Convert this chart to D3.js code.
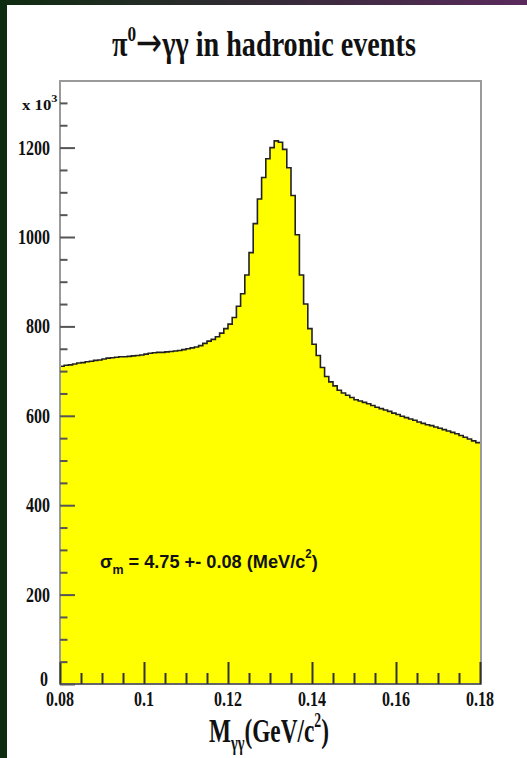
<!DOCTYPE html>
<html>
<head>
<meta charset="utf-8">
<script src="https://cdn.jsdelivr.net/npm/d3@7"></script>
<style>
  html, body { margin: 0; padding: 0; background: #fff; }
  svg { display: block; }
</style>
</head>
<body>
<script>
// Diphoton invariant mass spectrum, counts per 1 MeV bin (x 10^3)
const binStart = 0.08;
const binWidth = 0.001;
const counts = [
  711, 713, 714, 716, 718, 719, 721, 722, 724, 725,
  727, 729, 730, 731, 732, 732, 733, 734, 735, 736,
  738, 740, 741, 742, 742, 743, 744, 745, 746, 748,
  750, 752, 754, 757, 762, 767, 771, 777, 785, 795,
  805, 820, 845, 873, 915, 965, 1030, 1085, 1133, 1175,
  1200, 1215, 1212, 1196, 1155, 1093, 1005, 915, 850, 795,
  760, 735, 708, 688, 676, 667, 657, 651, 646, 641,
  636, 633, 630, 627, 623, 619, 616, 613, 610, 606,
  603, 599, 596, 593, 590, 586, 583, 580, 578, 575,
  572, 569, 566, 563, 560, 556, 552, 548, 544, 540
];
const xMajorTicks = [0.08, 0.10, 0.12, 0.14, 0.16, 0.18];
const xTickLabels = ["0.08", "0.1", "0.12", "0.14", "0.16", "0.18"];
const yMajorTicks = [0, 200, 400, 600, 800, 1000, 1200];
const yTickLabels = ["0", "200", "400", "600", "800", "1000", "1200"];

const W = 527, H = 758;
const plot = { left: 60, right: 480, top: 81, bottom: 684 };

const svg = d3.select("body").append("svg").attr("width", W).attr("height", H);

// slide background: white page with a dark left strip and gradient top band
const defs = svg.append("defs");
const grad = defs.append("linearGradient").attr("id", "topband").attr("x1", "0").attr("x2", "1");
grad.append("stop").attr("offset", "0").attr("stop-color", "#0e2c10");
grad.append("stop").attr("offset", "1").attr("stop-color", "#5a2a5c");
svg.append("rect").attr("width", W).attr("height", H).attr("fill", "#fff");
svg.append("rect").attr("x", 0).attr("y", 0).attr("width", W).attr("height", 5).attr("fill", "url(#topband)");
svg.append("rect").attr("x", 0).attr("y", 0).attr("width", 7).attr("height", H).attr("fill", "#0d2c10");

const x = d3.scaleLinear().domain([0.08, 0.18]).range([plot.left, plot.right]);
const y = d3.scaleLinear().domain([0, 1349]).range([plot.bottom, plot.top]);

// histogram as step points at bin edges
const steps = counts.map((c, i) => [binStart + i * binWidth, c]);
steps.push([binStart + counts.length * binWidth, counts[counts.length - 1]]);

const area = d3.area().curve(d3.curveStepAfter)
  .x(d => x(d[0])).y0(y(0)).y1(d => y(d[1]));
const line = d3.line().curve(d3.curveStepAfter)
  .x(d => x(d[0])).y(d => y(d[1]));

svg.append("path").datum(steps).attr("d", area).attr("fill", "#ffff00");
svg.append("path").datum(steps).attr("d", line)
  .attr("fill", "none").attr("stroke", "#222").attr("stroke-width", 1.6);

// frame
svg.append("rect")
  .attr("x", plot.left).attr("y", plot.top)
  .attr("width", plot.right + 1 - plot.left).attr("height", plot.bottom - plot.top)
  .attr("fill", "none").attr("stroke", "#9a9a9a").attr("stroke-width", 2);
svg.append("line").attr("x1", plot.left).attr("x2", plot.right + 1)
  .attr("y1", plot.bottom).attr("y2", plot.bottom)
  .attr("stroke", "#555").attr("stroke-width", 1.5);

// x ticks: majors every 0.02, minors every 0.005
const xAxis = d3.axisTop(x).tickValues(d3.range(0, 21).map(i => 0.08 + i * 0.005))
  .tickSize(0).tickFormat("");
const gx = svg.append("g").attr("transform", `translate(0,${plot.bottom})`).call(xAxis);
gx.select(".domain").remove();
gx.selectAll(".tick").append("line")
  .attr("y2", (d, i) => i % 4 === 0 ? -22 : -11)
  .attr("stroke", "#333").attr("stroke-width", 2);

// y ticks: majors every 200, minors every 50
const yAxis = d3.axisRight(y).tickValues(d3.range(0, 27).map(i => i * 50))
  .tickSize(0).tickFormat("");
const gy = svg.append("g").attr("transform", `translate(${plot.left},0)`).call(yAxis);
gy.select(".domain").remove();
gy.selectAll(".tick").append("line")
  .attr("x2", (d, i) => i % 4 === 0 ? 15 : 7.5)
  .attr("stroke", "#555").attr("stroke-width", 2);

const serif = "'Liberation Serif', 'Times New Roman', serif";
const sans = "'Liberation Sans', Arial, sans-serif";
const ink = "#111";

// tick labels
const labelScale = 0.8;
xMajorTicks.forEach((v, i) => {
  svg.append("text")
    .attr("transform", `translate(${x(v)},706) scale(${labelScale},1)`)
    .attr("text-anchor", "middle").attr("font-family", serif).attr("font-weight", "bold")
    .attr("font-size", 20).attr("fill", ink).text(xTickLabels[i]);
});
yMajorTicks.forEach((v, i) => {
  const yy = v === 0 ? y(v) + 2 : y(v) + 7;
  svg.append("text")
    .attr("transform", `translate(${v === 0 ? 48 : 50},${yy}) scale(${labelScale},1)`)
    .attr("text-anchor", "end").attr("font-family", serif).attr("font-weight", "bold")
    .attr("font-size", 20).attr("fill", ink).text(yTickLabels[i]);
});

// squeeze a text block horizontally into [x0, x0 + width]
function fitText(t, x0, baseline, width) {
  const bb = t.node().getBBox();
  const s = width / bb.width;
  t.attr("transform", `translate(${x0 - bb.x * s},${baseline}) scale(${s},1)`);
}

// axis multiplier
const mult = svg.append("text").attr("font-family", serif).attr("font-weight", "bold")
  .attr("font-size", 15).attr("fill", ink);
mult.append("tspan").text("x 10");
mult.append("tspan").attr("font-size", 11).attr("dy", -8).text("3");
fitText(mult, 22, 110, 36);

// title
const title = svg.append("text").attr("font-family", serif).attr("font-weight", "bold")
  .attr("font-size", 36).attr("fill", ink);
title.append("tspan").text("π");
title.append("tspan").attr("font-size", 22).attr("dy", -15).text("0");
title.append("tspan").attr("dy", 15).attr("font-family", "'DejaVu Sans', sans-serif")
  .attr("font-weight", "normal").attr("font-size", 40).text("→");
title.append("tspan").text("γγ in hadronic events");
fitText(title, 112, 56, 304);

// x axis title
const xt = svg.append("text").attr("font-family", serif).attr("font-weight", "bold")
  .attr("font-size", 34).attr("fill", ink);
xt.append("tspan").text("M");
xt.append("tspan").attr("font-size", 21).attr("dy", 8).text("γγ");
xt.append("tspan").attr("dy", -8).text("(GeV/c");
xt.append("tspan").attr("font-size", 20).attr("dy", -15).text("2");
xt.append("tspan").attr("dy", 15).text(")");
fitText(xt, 209, 742, 120);

// fitted width annotation
const ann = svg.append("text").attr("font-family", sans).attr("font-weight", "bold")
  .attr("font-size", 19).attr("fill", ink);
ann.append("tspan").text("σ");
ann.append("tspan").attr("font-size", 13).attr("dy", 6).text("m");
ann.append("tspan").attr("dy", -6).text(" = 4.75 +- 0.08 (MeV/c");
ann.append("tspan").attr("font-size", 12).attr("dy", -10).text("2");
ann.append("tspan").attr("dy", 10).text(")");
fitText(ann, 100, 568, 218);
</script>
</body>
</html>
